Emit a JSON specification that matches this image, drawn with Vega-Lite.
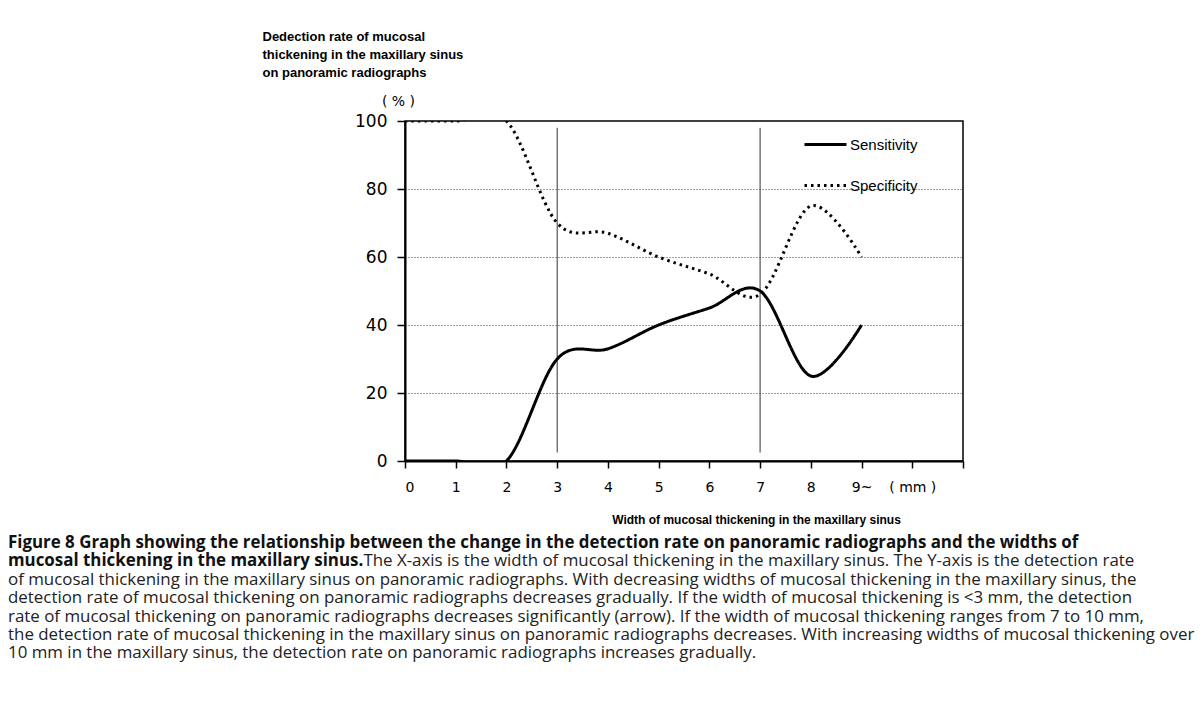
{
  "$schema": "https://vega.github.io/schema/vega-lite/v6.json",
  "autosize": "none",
  "width": 558,
  "height": 340,
  "padding": {"left": 405, "top": 121, "right": 241, "bottom": 257},
  "background": "white",
  "config": {
    "view": {"stroke": "black", "strokeWidth": 1.5},
    "axis": {"domainColor": "black", "tickColor": "black", "labelColor": "black", "titleColor": "black"}
  },
  "datasets": {
    "curves": [
      {"width": 0, "rate": 0, "series": "Sensitivity"},
      {"width": 1, "rate": 0, "series": "Sensitivity"},
      {"width": 2, "rate": 0, "series": "Sensitivity"},
      {"width": 3, "rate": 30, "series": "Sensitivity"},
      {"width": 4, "rate": 33, "series": "Sensitivity"},
      {"width": 5, "rate": 40, "series": "Sensitivity"},
      {"width": 6, "rate": 45, "series": "Sensitivity"},
      {"width": 7, "rate": 50, "series": "Sensitivity"},
      {"width": 8, "rate": 25, "series": "Sensitivity"},
      {"width": 9, "rate": 40, "series": "Sensitivity"},
      {"width": 0, "rate": 100, "series": "Specificity"},
      {"width": 1, "rate": 100, "series": "Specificity"},
      {"width": 2, "rate": 100, "series": "Specificity"},
      {"width": 3, "rate": 70, "series": "Specificity"},
      {"width": 4, "rate": 67, "series": "Specificity"},
      {"width": 5, "rate": 60, "series": "Specificity"},
      {"width": 6, "rate": 55, "series": "Specificity"},
      {"width": 7, "rate": 49, "series": "Specificity"},
      {"width": 8, "rate": 75, "series": "Specificity"},
      {"width": 9, "rate": 60, "series": "Specificity"}
    ],
    "markers": [
      {"width": 3, "low": 2.5, "high": 98},
      {"width": 7, "low": 2.5, "high": 98}
    ]
  },
  "title": {
    "text": [
      "Figure 8 Graph showing the relationship between the change in the detection rate on panoramic radiographs and the widths of",
      "mucosal thickening in the maxillary sinus."
    ],
    "subtitle": [
      "\u200b\u00a0\u00a0\u00a0\u00a0\u00a0\u00a0\u00a0\u00a0\u00a0\u00a0\u00a0\u00a0\u00a0\u00a0\u00a0\u00a0\u00a0\u00a0\u00a0\u00a0\u00a0\u00a0\u00a0\u00a0\u00a0\u00a0\u00a0\u00a0\u00a0\u00a0\u00a0\u00a0\u00a0\u00a0\u00a0\u00a0\u00a0\u00a0\u00a0\u00a0\u00a0\u00a0\u00a0\u00a0\u00a0\u00a0\u00a0\u00a0\u00a0\u00a0\u00a0\u00a0\u00a0\u00a0\u00a0\u00a0\u00a0\u00a0\u00a0\u00a0\u00a0\u00a0\u00a0\u00a0\u00a0\u00a0\u00a0\u00a0\u00a0\u00a0\u00a0\u00a0\u00a0\u00a0\u00a0\u00a0\u00a0\u00a0\u00a0\u00a0\u00a0The X-axis is the width of mucosal thickening in the maxillary sinus. The Y-axis is the detection rate",
      "of mucosal thickening in the maxillary sinus on panoramic radiographs. With decreasing widths of mucosal thickening in the maxillary sinus, the",
      "detection rate of mucosal thickening on panoramic radiographs decreases gradually. If the width of mucosal thickening is <3 mm, the detection",
      "rate of mucosal thickening on panoramic radiographs decreases significantly (arrow). If the width of mucosal thickening ranges from 7 to 10 mm,",
      "the detection rate of mucosal thickening in the maxillary sinus on panoramic radiographs decreases. With increasing widths of mucosal thickening over",
      "10 mm in the maxillary sinus, the detection rate on panoramic radiographs increases gradually."
    ],
    "orient": "bottom",
    "anchor": "start",
    "frame": "group",
    "dx": -397,
    "offset": 10,
    "font": "Open Sans",
    "fontSize": 16.9,
    "fontWeight": "bold",
    "lineHeight": 18.4,
    "color": "#111111",
    "subtitleFont": "Open Sans",
    "subtitleFontSize": 16.9,
    "subtitleFontWeight": "normal",
    "subtitleLineHeight": 18.4,
    "subtitleColor": "#222222",
    "subtitlePadding": -16.9
  },
  "layer": [
    {
      "data": {"name": "markers"},
      "mark": {"type": "rule", "color": "#333333", "strokeWidth": 1},
      "encoding": {
        "x": {
          "field": "width", "type": "quantitative",
          "scale": {"domain": [0, 11], "nice": false, "zero": false},
          "axis": {
            "orient": "top", "title": "( % )", "labels": false, "ticks": false, "domain": false, "grid": false,
            "titleX": -7, "titleY": -16, "titleAlign": "center", "titleBaseline": "alphabetic",
            "titleFont": "DejaVu Sans", "titleFontSize": 14, "titleFontWeight": "normal"
          }
        },
        "y": {
          "field": "low", "type": "quantitative",
          "scale": {"domain": [0, 100], "nice": false}
        },
        "y2": {"field": "high"}
      }
    },
    {
      "data": {"name": "curves"},
      "mark": {"type": "line", "interpolate": "cardinal", "tension": 0, "clip": true, "strokeCap": "butt"},
      "encoding": {
        "x": {
          "field": "width", "type": "quantitative",
          "scale": {"domain": [0, 11], "nice": false, "zero": false},
          "axis": {
            "orient": "bottom",
            "values": [0, 1, 2, 3, 4, 5, 6, 7, 8, 9, 10, 11],
            "labelExpr": "datum.value == 9 ? '9~' : datum.value == 10 ? '( mm )' : datum.value == 11 ? '' : datum.label",
            "grid": false,
            "domainWidth": 2,
            "tickSize": 7,
            "tickWidth": 1.5,
            "labelPadding": 12,
            "labelFont": "DejaVu Sans",
            "labelFontSize": 14,
            "title": "Width of mucosal thickening in the maxillary sinus",
            "titleFont": "Liberation Sans",
            "titleFontSize": 12,
            "titleFontWeight": "bold",
            "titleX": 351,
            "titleY": 62,
            "titleAlign": "center",
            "titleBaseline": "alphabetic"
          }
        },
        "y": {
          "field": "rate", "type": "quantitative",
          "scale": {"domain": [0, 100], "nice": false},
          "axis": {
            "values": [0, 20, 40, 60, 80, 100],
            "grid": true,
            "gridDash": [1, 2],
            "gridColor": "#444444",
            "gridWidth": 1,
            "domainWidth": 2,
            "tickSize": 8,
            "tickWidth": 1.5,
            "labelPadding": 10,
            "labelFont": "DejaVu Sans",
            "labelFontSize": 17,
            "title": ["Dedection rate of mucosal", "thickening in the maxillary sinus", "on panoramic radiographs"],
            "titleFont": "Liberation Sans",
            "titleFontSize": 13,
            "titleFontWeight": "bold",
            "titleAngle": 0,
            "titleAlign": "left",
            "titleBaseline": "alphabetic",
            "titleLineHeight": 18,
            "titleX": -143,
            "titleY": -81
          }
        },
        "strokeDash": {
          "field": "series", "type": "nominal",
          "scale": {"domain": ["Sensitivity", "Specificity"], "range": [[1, 0], [2.5, 4]]},
          "legend": {
            "title": null,
            "orient": "none",
            "legendX": 398,
            "legendY": 1,
            "padding": 0,
            "rowPadding": 10,
            "symbolType": "stroke",
            "symbolSize": 1764,
            "symbolStrokeWidth": 3,
            "symbolStrokeColor": "black",
            "labelFont": "Liberation Sans",
            "labelFontSize": 15,
            "labelColor": "black",
            "labelOffset": 2
          }
        },
        "color": {"value": "black"},
        "strokeWidth": {"value": 3}
      }
    }
  ],
  "resolve": {"axis": {"x": "independent"}}
}
